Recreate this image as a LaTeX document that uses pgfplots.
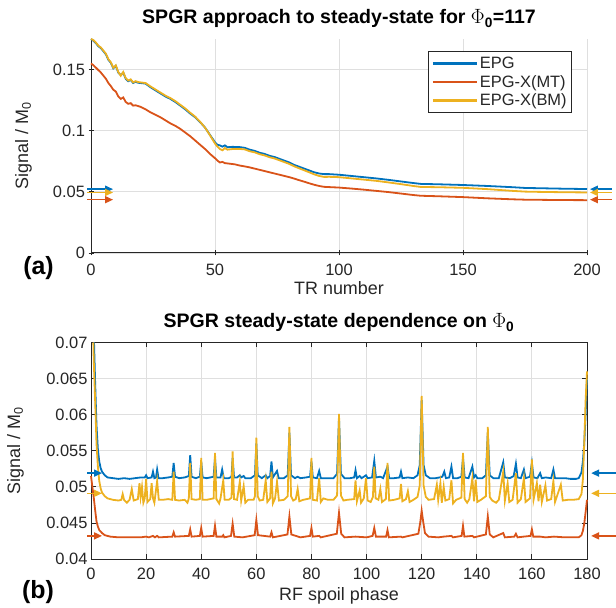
\documentclass[border=0pt]{standalone}
\usepackage{fontspec}
\setmainfont{Liberation Sans}
\usepackage{pgfplots}
\pgfplotsset{compat=1.18}
\usetikzlibrary{arrows.meta}
\definecolor{epg}{HTML}{0072BD}
\definecolor{epgmt}{HTML}{D95319}
\definecolor{epgbm}{HTML}{EDB120}
\definecolor{axiscol}{HTML}{262626}
\definecolor{gridcol}{HTML}{DFDFDF}

\pgfplotsset{
  matlab/.style={
    scale only axis, width=496bp, clip=false,
    scaled ticks=false,
    /pgf/number format/assume math mode=true,
    tick align=inside, major tick length=5bp,
    every tick/.style={axiscol, line width=0.8bp},
    grid=major, major grid style={gridcol, line width=0.8bp},
    ticklabel style={font=\fontsize{16.5}{18}\selectfont, text=axiscol},
    xticklabel style={anchor=base, yshift=-20.5bp},
    every axis plot/.append style={line width=1.8bp},
  },
  ssarrow/.style={forget plot, line width=1.5bp, -{Triangle[length=8bp,width=7bp]}},
}

\begin{document}
\begin{tikzpicture}

% (a) approach to steady state
\begin{axis}[matlab,
  at={(91bp,355bp)}, anchor=south west, height=214bp,
  axis x line=bottom, axis y line=left,
  axis line style={-, axiscol, line width=1bp},
  xmin=0, xmax=200, ymin=0, ymax=0.175,
  xtick={0,50,100,150,200},
  ytick={0,0.05,0.1,0.15}, yticklabels={0,0.05,0.1,0.15},
  legend style={at={(0.970,0.944)}, anchor=north east, draw=axiscol,
    line width=1bp, font=\fontsize{16.5}{18}\selectfont, text=axiscol,
    inner xsep=3bp, inner ysep=3.5bp, row sep=1.2bp, cells={anchor=west}},
  legend image code/.code={\draw[#1, line width=2.2bp] (0bp,0bp) -- (44bp,0bp);},
]
\addplot[epg] coordinates {
 (0,0.1750) (1,0.1735) (2,0.1715) (3,0.169) (4,0.1675) (5,0.165) (6,0.1625)
 (7,0.158) (8,0.1555) (9,0.151) (10,0.153) (11,0.1475) (12,0.1455) (13,0.1475)
 (14,0.1425) (15,0.1405) (16,0.1415) (17,0.1390) (18,0.1400) (19,0.1392)
 (20,0.1390) (22,0.1385) (24,0.1355) (26,0.1330) (28,0.1305) (30,0.1280)
 (32,0.1260) (34,0.1235) (36,0.1205) (38,0.1175) (40,0.1140) (42,0.1110)
 (44,0.1070) (46,0.1025) (48,0.0965) (50,0.0905) (51,0.0885) (52,0.0880)
 (53,0.0870) (54,0.0880) (55,0.0865) (57,0.0868) (60,0.0866) (62,0.0860)
 (64,0.0845) (66,0.0835) (68,0.0820) (70,0.0810) (72,0.0795) (74,0.0785)
 (76,0.0770) (78,0.0755) (80,0.0740) (82,0.0720) (84,0.0705) (86,0.0690)
 (88,0.0675) (90,0.0660) (92,0.0650) (94,0.0645) (96,0.0645) (100,0.0640)
 (105,0.0630) (110,0.0620) (115,0.0610) (120,0.0598) (125,0.0585) (130,0.0572)
 (133,0.0565) (140,0.0562) (150,0.0556) (160,0.0548) (170,0.0538) (175,0.0532)
 (180,0.0530) (190,0.0526) (200,0.0523)
};
\addlegendentry{EPG}
\addplot[epgmt] coordinates {
 (0,0.1550) (1,0.1535) (2,0.1515) (3,0.1495) (4,0.1475) (5,0.1450) (6,0.1425)
 (7,0.1390) (8,0.1365) (9,0.1335) (10,0.1320) (11,0.1280) (12,0.1260)
 (13,0.1272) (14,0.1235) (15,0.1220) (16,0.1225) (17,0.1205) (18,0.1208)
 (20,0.1195) (22,0.1175) (24,0.1150) (26,0.1130) (28,0.1110) (30,0.1085)
 (32,0.1060) (34,0.1040) (36,0.1015) (38,0.0985) (40,0.0955) (42,0.0920)
 (44,0.0885) (46,0.0850) (48,0.0810) (50,0.0775) (51,0.0755) (52,0.0740)
 (53,0.0745) (54,0.0735) (56,0.0730) (58,0.0725) (60,0.0715) (62,0.0708)
 (64,0.0700) (66,0.0690) (68,0.0680) (70,0.0670) (72,0.0660) (74,0.0650)
 (76,0.0640) (78,0.0630) (80,0.0620) (82,0.0608) (84,0.0595) (86,0.0583)
 (88,0.0570) (90,0.0558) (92,0.0548) (94,0.0541) (96,0.0539) (100,0.0535)
 (105,0.0527) (110,0.0518) (115,0.0508) (120,0.0498) (125,0.0486) (130,0.0474)
 (133,0.0468) (140,0.0464) (150,0.0457) (160,0.0447) (170,0.0439) (175,0.0436)
 (180,0.0435) (190,0.0433) (200,0.0432)
};
\addlegendentry{EPG-X(MT)}
\addplot[epgbm] coordinates {
 (0,0.1750) (1,0.1740) (2,0.1720) (3,0.1695) (4,0.1680) (5,0.1655) (6,0.1630)
 (7,0.1585) (8,0.1560) (9,0.1515) (10,0.1535) (11,0.1480) (12,0.1450)
 (13,0.1480) (14,0.1430) (15,0.1410) (16,0.1420) (17,0.1395) (18,0.1405)
 (19,0.1398) (20,0.1395) (22,0.1390) (24,0.1362) (26,0.1337) (28,0.1312)
 (30,0.1287) (32,0.1267) (34,0.1242) (36,0.1212) (38,0.1182) (40,0.1147)
 (42,0.1115) (44,0.1073) (46,0.1025) (48,0.0962) (50,0.0895) (51,0.0870)
 (52,0.0850) (53,0.0840) (54,0.0858) (55,0.0845) (57,0.0850) (60,0.0851)
 (62,0.0847) (64,0.0832) (66,0.0823) (68,0.0808) (70,0.0798) (72,0.0783)
 (74,0.0773) (76,0.0758) (78,0.0743) (80,0.0728) (82,0.0708) (84,0.0692)
 (86,0.0676) (88,0.0660) (90,0.0643) (92,0.0630) (94,0.0622) (96,0.0623)
 (100,0.0620) (105,0.0610) (110,0.0600) (115,0.0590) (120,0.0577) (125,0.0563)
 (130,0.0548) (133,0.0540) (140,0.0538) (150,0.0533) (160,0.0522) (170,0.0508)
 (175,0.0502) (180,0.0500) (190,0.0497) (200,0.0495)
};
\addlegendentry{EPG-X(BM)}
% steady-state markers
\addplot[epg, ssarrow] coordinates {(-1.6,0.0522) (8.9,0.0522)};
\addplot[epgbm, ssarrow] coordinates {(-1.6,0.0495) (8.9,0.0495)};
\addplot[epgmt, ssarrow] coordinates {(-1.6,0.0436) (8.9,0.0436)};
\addplot[epg, ssarrow] coordinates {(210,0.0522) (201.2,0.0522)};
\addplot[epgbm, ssarrow] coordinates {(210,0.0495) (201.2,0.0495)};
\addplot[epgmt, ssarrow] coordinates {(210,0.0436) (201.2,0.0436)};
\end{axis}

% (b) steady state vs spoil phase
\begin{axis}[matlab,
  at={(91bp,49bp)}, anchor=south west, height=216.5bp,
  axis line style={axiscol, line width=1bp},
  xmin=0, xmax=180, ymin=0.04, ymax=0.07,
  xtick={0,20,40,60,80,100,120,140,160,180},
  ytick={0.04,0.045,0.05,0.055,0.06,0.065,0.07},
  yticklabels={0.04,0.045,0.05,0.055,0.06,0.065,0.07},
]
\addplot[epg] coordinates {
 (1.1,0.070) (1.5,0.0645) (2,0.0585) (2.5,0.0552) (3,0.0535) (3.5,0.0526)
 (4,0.0521) (5,0.0516) (6,0.0513) (8,0.0512) (10,0.0511) (12,0.0512) (14,0.0511)
 (16,0.0512) (18,0.0513) (19.5,0.0513) (20,0.0516) (20.5,0.0512) (22,0.0513)
 (22.5,0.0521) (23,0.0512) (23.6,0.0513) (24,0.0524) (24.5,0.0512) (26,0.0512)
 (28,0.0513) (29.5,0.0514) (30,0.0533) (30.5,0.0514) (32,0.0512) (34,0.0513)
 (35.5,0.0515) (36,0.0544) (36.5,0.0514) (38,0.0512) (39.5,0.0514) (40,0.0535)
 (40.5,0.0513) (42,0.0512) (44.5,0.0514) (45,0.0540) (45.5,0.0513) (47,0.0513)
 (47.6,0.0524) (48.2,0.0512) (50,0.0512) (51,0.0514) (51.4,0.0540) (51.9,0.0513)
 (53,0.0513) (54,0.0516) (54.5,0.0513) (55.4,0.0515) (56,0.0512) (58,0.0512)
 (59.5,0.0516) (60,0.0560) (60.5,0.0516) (62,0.0512) (63.4,0.0516) (64,0.0512)
 (65,0.0515) (65.5,0.0535) (66,0.0513) (67.5,0.0522) (68.1,0.0512) (70,0.0512)
 (71.4,0.0516) (72,0.0575) (72.6,0.0516) (74,0.0512) (75,0.0514) (76,0.0512)
 (78,0.0513) (79.5,0.0514) (80,0.0535) (80.5,0.0513) (82,0.0512) (82.8,0.0522)
 (83.4,0.0512) (86,0.0512) (88,0.0512) (89.3,0.0518) (90,0.0595) (90.7,0.0518)
 (92,0.0512) (94,0.0512) (95.5,0.0513) (96,0.0523) (96.5,0.0512) (97.5,0.0515)
 (98.2,0.0512) (99.8,0.0516) (100.4,0.0512) (102,0.0513) (102.8,0.0536)
 (103.4,0.0513) (105,0.0514) (106,0.0512) (107.6,0.0528) (108.2,0.0512)
 (110,0.0512) (112,0.0513) (112.5,0.0521) (113,0.0512) (115,0.0513) (117,0.0512)
 (118.5,0.0516) (119.3,0.0530) (120,0.0620) (120.7,0.0530) (121.5,0.0516)
 (123,0.0512) (125,0.0512) (126.5,0.0513) (127.5,0.0514) (128.2,0.0521)
 (128.8,0.0512) (130,0.0513) (130.8,0.0528) (131.4,0.0512) (133,0.0512)
 (134.4,0.0514) (135,0.0540) (135.6,0.0513) (137,0.0512) (138.4,0.0528)
 (139,0.0513) (139.6,0.0516) (140.2,0.0512) (142,0.0512) (143.3,0.0516)
 (144,0.0575) (144.7,0.0516) (146,0.0512) (148,0.0512) (149.6,0.0534)
 (150.2,0.0513) (152,0.0512) (153.4,0.0515) (154.2,0.0532) (154.8,0.0513)
 (156,0.0512) (157.1,0.0524) (157.7,0.0512) (159.3,0.0514) (160,0.0533)
 (160.6,0.0513) (162,0.0512) (163,0.0519) (163.6,0.0512) (165,0.0513)
 (167,0.0512) (167.8,0.0524) (168.4,0.0512) (170,0.0512) (172,0.0512)
 (174,0.0511) (176,0.0511) (177,0.0512) (178,0.0520) (178.5,0.0535)
 (179,0.0560) (179.5,0.0600) (180,0.0650)
};
\addplot[epgmt] coordinates {
 (0,0.0515) (0.5,0.0500) (1,0.0485) (1.5,0.0468) (2,0.0452) (2.5,0.0445)
 (3,0.0440) (4,0.0436) (5,0.0433) (7,0.0431) (10,0.0430) (14,0.0430)
 (18,0.0430) (20,0.0431) (21,0.0430) (22.5,0.0432) (23.2,0.0430) (24,0.0432)
 (24.6,0.0430) (29.5,0.0431) (30,0.0437) (30.5,0.0431) (35.5,0.0432)
 (36,0.0441) (36.5,0.0431) (39.5,0.0432) (40,0.0443) (40.5,0.0431)
 (44.5,0.0432) (45,0.0446) (45.5,0.0431) (47.6,0.0431) (48,0.0433)
 (48.4,0.0430) (50.8,0.0432) (51.4,0.0449) (52,0.0431) (55,0.0430)
 (59.4,0.0433) (60,0.0454) (60.6,0.0433) (65,0.0431) (65.5,0.0437)
 (66,0.0430) (71.3,0.0434) (72,0.0459) (72.7,0.0434) (76,0.0430)
 (79.5,0.0432) (80,0.0443) (80.5,0.0431) (82.8,0.0432) (83.4,0.0430)
 (89.2,0.0435) (90,0.0464) (90.8,0.0435) (92,0.0430) (96,0.0431) (100,0.0430)
 (102.2,0.0432) (102.8,0.0443) (103.4,0.0431) (107.1,0.0431) (107.6,0.0440)
 (108.1,0.0430) (112.5,0.0431) (113,0.0430) (118.8,0.0435) (119.5,0.0451)
 (120,0.0467) (120.5,0.0453) (121.2,0.0436) (122.5,0.0431) (126,0.0430)
 (128,0.0431) (130.8,0.0432) (131.4,0.0430) (134.5,0.0432) (135,0.0446)
 (135.5,0.0431) (138.4,0.0432) (139,0.0430) (143.3,0.0434) (144,0.0459)
 (144.7,0.0434) (146,0.0430) (149.6,0.0436) (150.2,0.0430) (153.6,0.0431)
 (154.2,0.0435) (154.8,0.0430) (157,0.0431) (159.5,0.0432) (160,0.0441)
 (160.5,0.0431) (163,0.0431) (165,0.0430) (168,0.0431) (172,0.0430)
 (176,0.0430) (177,0.0430) (178,0.0433) (178.5,0.0439) (179,0.0449)
 (179.5,0.0465) (180,0.0482)
};
\addplot[epgbm] coordinates {
 (0.85,0.070) (1,0.0675) (1.5,0.062) (2,0.056) (2.5,0.0528) (3,0.0508)
 (3.5,0.0498) (4,0.0492) (5,0.0487) (6,0.0484) (8,0.0482) (10,0.0481)
 (11,0.0482) (11.5,0.0490) (12,0.0482) (13,0.0478) (14,0.0482) (14.8,0.0497)
 (15.5,0.0481) (17,0.0483) (17.6,0.0505) (18,0.0486) (18.5,0.0500) (19,0.0478)
 (19.5,0.0484) (20,0.0511) (20.5,0.0479) (21.5,0.0483) (22,0.0505) (22.5,0.0484)
 (23,0.0478) (24,0.0508) (24.6,0.0482) (26,0.0482) (28,0.0483) (29.5,0.0482)
 (30,0.0521) (30.5,0.0482) (32,0.0481) (34,0.0482) (35,0.0478) (35.5,0.0484)
 (36,0.0533) (36.5,0.0483) (38,0.0482) (39.5,0.0483) (40,0.0540) (40.5,0.0482)
 (42,0.0482) (44.5,0.0484) (45,0.0547) (45.5,0.0483) (46.5,0.0477) (47,0.0484)
 (48,0.0509) (48.5,0.0482) (50,0.0482) (51,0.0485) (51.4,0.0549) (51.9,0.0483)
 (53,0.0482) (54,0.0507) (54.5,0.0481) (55.4,0.0501) (56,0.0478) (57,0.0482)
 (59,0.0482) (59.5,0.0487) (60,0.0568) (60.5,0.0487) (61.2,0.0481) (62.5,0.0482)
 (63.4,0.0509) (64,0.0479) (65,0.0484) (65.5,0.0521) (66,0.0477) (66.8,0.0484)
 (67.5,0.0507) (68.2,0.0481) (70,0.0482) (71.4,0.0487) (72,0.0583) (72.6,0.0487)
 (73.4,0.0481) (74.3,0.0483) (75,0.0497) (75.6,0.0480) (77,0.0482) (79.5,0.0484)
 (80,0.0540) (80.5,0.0482) (82,0.0481) (82.8,0.0512) (83.4,0.0479) (84.3,0.0484)
 (86,0.0482) (88,0.0482) (89.3,0.0488) (90,0.0601) (90.7,0.0488) (91.6,0.0481)
 (93,0.0482) (95.5,0.0483) (96,0.0509) (96.5,0.0480) (97.5,0.0495) (98,0.0478)
 (99,0.0484) (99.8,0.0512) (100.4,0.0481) (101.5,0.0479) (102.3,0.0486)
 (102.8,0.0528) (103.3,0.0484) (104.3,0.0482) (105,0.0497) (105.6,0.0479)
 (107,0.0483) (107.6,0.0533) (108.2,0.0481) (110,0.0482) (112,0.0484)
 (112.5,0.0504) (113,0.0480) (114.3,0.0483) (115,0.0494) (115.6,0.0479)
 (117,0.0482) (118.5,0.0486) (119.3,0.0502) (120,0.0626) (120.7,0.0502)
 (121.5,0.0486) (122.5,0.0482) (124.5,0.0483) (125.5,0.0503) (126,0.0482)
 (126.8,0.0505) (127.3,0.0478) (128,0.0500) (128.6,0.0481) (130,0.0483)
 (130.8,0.0509) (131.4,0.0477) (132.5,0.0482) (134.4,0.0485) (135,0.0547)
 (135.6,0.0483) (136.5,0.0478) (137.3,0.0483) (138.4,0.0512) (139,0.0480)
 (139.6,0.0510) (140.2,0.0479) (141.5,0.0482) (143.3,0.0487) (144,0.0583)
 (144.7,0.0486) (145.6,0.0481) (147,0.0478) (148,0.0482) (149.6,0.0521)
 (150.2,0.0481) (151.2,0.0505) (151.8,0.0479) (153,0.0482) (154.2,0.0519)
 (154.8,0.0478) (156,0.0483) (157.1,0.0512) (157.7,0.0479) (159.3,0.0484)
 (160,0.0538) (160.6,0.0482) (161.8,0.0505) (162.4,0.0480) (163,0.0503)
 (163.6,0.0479) (164.9,0.0502) (165.5,0.0481) (167,0.0483) (167.8,0.0508)
 (168.4,0.0479) (170.5,0.0503) (171.2,0.0481) (173,0.0482) (175,0.0482)
 (177,0.0483) (178,0.0490) (178.5,0.0510) (179,0.0560) (179.5,0.0620)
 (180,0.0660)
};
\addplot[epg, ssarrow] coordinates {(-1.45,0.0519) (4.0,0.0519)};
\addplot[epgbm, ssarrow] coordinates {(-1.45,0.0491) (4.0,0.0491)};
\addplot[epgmt, ssarrow] coordinates {(-1.45,0.0432) (4.0,0.0432)};
\addplot[epg, ssarrow] coordinates {(191,0.0519) (181.5,0.0519)};
\addplot[epgbm, ssarrow] coordinates {(191,0.0491) (181.5,0.0491)};
\addplot[epgmt, ssarrow] coordinates {(191,0.0432) (181.5,0.0432)};
\end{axis}

% titles, labels, panel letters
\begin{scope}[every node/.style={text=black}]
\node[anchor=base, font=\bfseries\fontsize{19.6}{22}\selectfont]
  at (339bp,584bp) {SPGR approach to steady-state for {\mdseries$\Phi$}\textsubscript{0}=117};
\node[anchor=base, font=\bfseries\fontsize{19.6}{22}\selectfont]
  at (339bp,280bp) {SPGR steady-state dependence on {\mdseries$\Phi$}\textsubscript{0}};
\node[anchor=base, font=\fontsize{18}{21}\selectfont, text=axiscol]
  at (339bp,313bp) {TR number};
\node[anchor=base, font=\fontsize{18}{21}\selectfont, text=axiscol]
  at (339bp,8bp) {RF spoil phase};
\node[anchor=base, rotate=90, font=\fontsize{18}{21}\selectfont, text=axiscol]
  at (28bp,462bp) {Signal / M\textsubscript{0}};
\node[anchor=base, rotate=90, font=\fontsize{18}{21}\selectfont, text=axiscol]
  at (20bp,157bp) {Signal / M\textsubscript{0}};
\node[anchor=base, font=\bfseries\fontsize{25}{28}\selectfont]
  at (38.5bp,333bp) {(a)};
\node[anchor=base, font=\bfseries\fontsize{25}{28}\selectfont]
  at (38bp,10bp) {(b)};
\end{scope}

\pgfresetboundingbox
\path[use as bounding box] (0,0) rectangle (616bp,608bp);
\end{tikzpicture}
\end{document}
